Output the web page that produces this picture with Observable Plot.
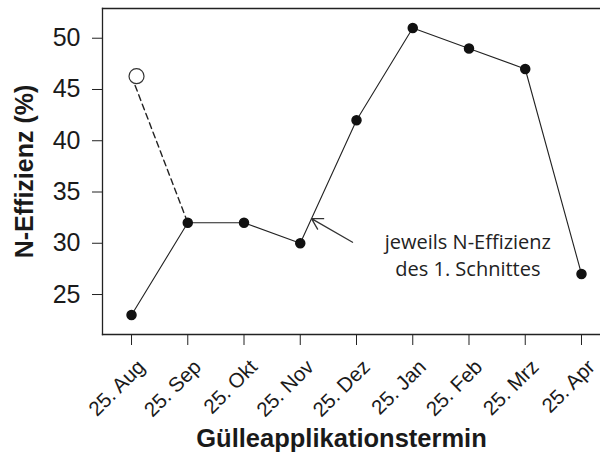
<!DOCTYPE html>
<html>
<head>
<meta charset="utf-8">
<script src="https://cdn.jsdelivr.net/npm/d3@7"></script>
<script src="https://cdn.jsdelivr.net/npm/@observablehq/plot@0.6"></script>
<style>
  html, body { margin: 0; padding: 0; background: #fff; }
  #chart svg { display: block; }
</style>
</head>
<body>
<div id="chart"></div>
<script>
// Categories (tick labels) and values
const months = ["25. Aug", "25. Sep", "25. Okt", "25. Nov", "25. Dez", "25. Jan", "25. Feb", "25. Mrz", "25. Apr"];
const efficiency = [23, 32, 32, 30, 42, 51, 49, 47, 27];
// Open point (Aug) and its dashed link to Sep
const openMonths = ["25. Aug", "25. Sep"];
const openValues = [46.3, 32];
// Annotation
const noteLines = ["jeweils N-Effizienz", "des 1. Schnittes"];
const yTicks = [25, 30, 35, 40, 45, 50];

const idx = m => months.indexOf(m);
const mainData = months.map((m, i) => ({i, v: efficiency[i]}));
const openData = openMonths.map((m, k) => ({i: idx(m), v: openValues[k]}));
const arrowData = [{x1: 3.93, y1: 30.1, x2: 3.2, y2: 32.4}];
const noteData = noteLines.map((t, k) => ({t, x: 5.98, y: 30.1 - k * 2.65}));
const monthTicks = months.map((m, i) => ({i, m}));

const font = "Liberation Sans, Arial, sans-serif";

const chart = Plot.plot({
  width: 600,
  height: 452,
  marginLeft: 102,
  marginRight: 0,
  marginTop: 8,
  marginBottom: 118,
  style: {fontFamily: font, color: "#222", background: "#fff"},
  x: {type: "linear", domain: [-0.516, 8.338]},
  y: {domain: [21.1, 52.9]},
  marks: [
    Plot.frame({anchor: "top", stroke: "#222", strokeWidth: 1.3}),
    Plot.frame({anchor: "bottom", stroke: "#222", strokeWidth: 1.3}),
    Plot.frame({anchor: "left", stroke: "#222", strokeWidth: 1.3}),
    Plot.axisY({ticks: yTicks, tickSize: 10, tickFormat: () => "", label: null, stroke: "#222"}),
    Plot.axisX({ticks: d3.range(months.length), tickFormat: () => "", tickSize: 10, dy: 1, label: null, stroke: "#222"}),
    // tick labels
    Plot.text(yTicks, {y: d => d, text: d => String(d), frameAnchor: "left", textAnchor: "end", dx: -22, fontSize: 25, fill: "#1a1a1a"}),
    Plot.text(monthTicks, {x: "i", text: "m", frameAnchor: "bottom", textAnchor: "end", lineAnchor: "middle", rotate: -45, dx: 10, dy: 29, fontSize: 20.5, fill: "#1a1a1a"}),
    // axis titles
    Plot.text(["Gülleapplikationstermin"], {frameAnchor: "bottom", lineAnchor: "middle", dy: 104, dx: -10, fontSize: 25.5, fontWeight: "bold", fill: "#1a1a1a"}),
    Plot.text(["N-Effizienz (%)"], {frameAnchor: "left", textAnchor: "middle", dx: -78, rotate: -90, fontSize: 25, fontWeight: "bold", fill: "#1a1a1a"}),
    // data
    Plot.line(openData, {x: "i", y: "v", stroke: "#222", strokeWidth: 1.4, strokeDasharray: "6,4"}),
    Plot.line(mainData, {x: "i", y: "v", stroke: "#222", strokeWidth: 1.1}),
    Plot.dot(mainData, {x: "i", y: "v", r: 4.5, fill: "#111", stroke: "#111"}),
    Plot.dot(openData.slice(0, 1), {x: "i", y: "v", r: 7.5, dx: 5, fill: "#fff", stroke: "#333", strokeWidth: 1.2}),
    // annotation
    Plot.arrow(arrowData, {x1: "x1", y1: "y1", x2: "x2", y2: "y2", stroke: "#333", strokeWidth: 1.3, headLength: 14, bend: 0}),
    Plot.text(noteData, {x: "x", y: "y", text: "t", fontSize: 20, fontFamily: "Open Sans, sans-serif", fill: "#222"})
  ]
});
document.getElementById("chart").appendChild(chart);
</script>
</body>
</html>
